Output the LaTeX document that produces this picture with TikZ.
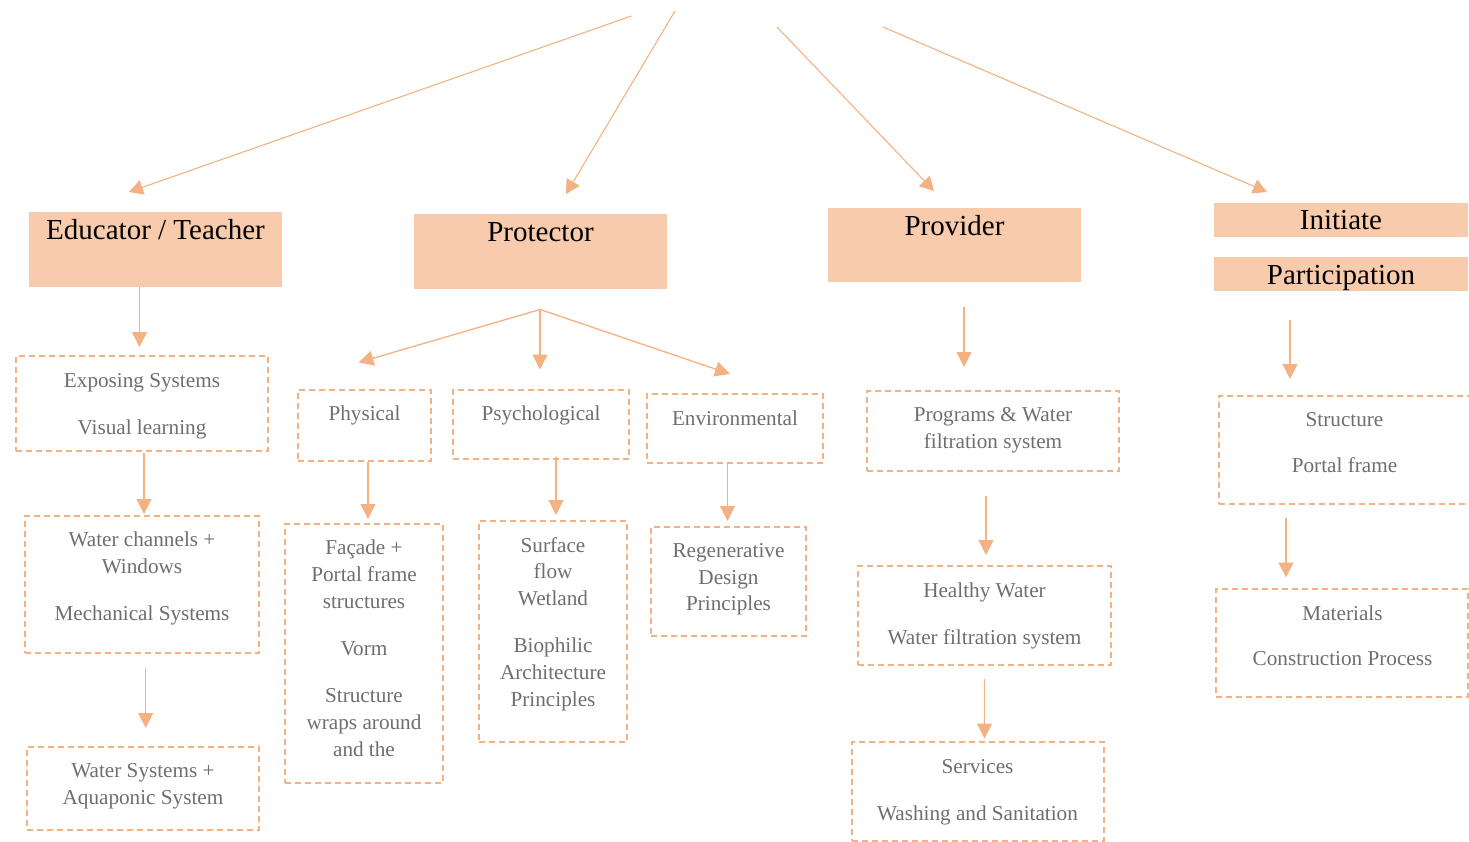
\documentclass[tikz,border=0pt]{standalone}
\usepackage{fontspec}
\setmainfont{Liberation Serif}
\usetikzlibrary{arrows.meta}
\definecolor{hdrfill}{HTML}{F8CBAD}
\definecolor{acc}{HTML}{F4B183}
\definecolor{txtg}{HTML}{6E6E6E}
\newcommand{\mkbox}[6]{%
  \pgfmathsetmacro{\mkW}{#5-#3}\pgfmathsetmacro{\mkH}{#6-#4}%
  \node[#1, minimum width=\mkW pt, minimum height=\mkH pt] (#2) at ({(#3+#5)/2},{(#4+#6)/2}) {};}
\begin{document}
\begin{tikzpicture}[x=1pt,y=-1pt,
  hdrbox/.style={fill=hdrfill, draw=none, inner sep=0pt, outer sep=0pt},
  dbox/.style={draw=acc, line width=2pt, dash pattern=on 6pt off 4pt, inner sep=0pt, outer sep=0pt},
  htxt/.style={anchor=base, inner sep=0pt, font=\fontsize{29}{34}\selectfont, text=black},
  btxt/.style={anchor=north, inner sep=0pt, align=center, font=\fontsize{21.2}{26.8}\selectfont, text=txtg},
  arr/.style={draw=acc, line width=1.3pt, -{Triangle[width=15pt,length=15pt]}},
  tarr/.style={draw=acc, line width=1.1pt, -{Triangle[width=15pt,length=14pt]}}
]
\useasboundingbox (0,0) rectangle (1469,842);

% ---------- header boxes ----------
\mkbox{hdrbox}{edu}{29}{212}{282}{287}
\mkbox{hdrbox}{prot}{414}{214}{667}{289}
\mkbox{hdrbox}{prov}{828}{208}{1081}{282}
\mkbox{hdrbox}{init}{1214}{203}{1468}{237}
\mkbox{hdrbox}{part}{1214}{257}{1468}{291}
\node[htxt] (edut) at (155.5,240) {Educator / Teacher};
\node[htxt] (prott) at (540.5,242) {Protector};
\node[htxt] (provt) at (954.5,236) {Provider};
\node[htxt] (initt) at (1341,230) {Initiate};
\node[htxt] (partt) at (1341,284.5) {Participation};

% ---------- top arrows ----------
\coordinate (t1s) at (631.5,16);  \coordinate (t1e) at (129,192);
\coordinate (t2s) at (675,11);    \coordinate (t2e) at (566,194);
\coordinate (t3s) at (777,27);    \coordinate (t3e) at (934,191);
\coordinate (t4s) at (883,27);    \coordinate (t4e) at (1267,192);
\draw[tarr] (t1s) -- (t1e);
\draw[tarr] (t2s) -- (t2e);
\draw[tarr] (t3s) -- (t3e);
\draw[tarr] (t4s) -- (t4e);

% ---------- Educator column ----------
\mkbox{dbox}{e1}{16}{356}{268}{451}
\mkbox{dbox}{e2}{25}{516}{259}{653}
\mkbox{dbox}{e3}{27}{747}{259}{830}
\node[btxt] (e1t) at (142,373.5) {Exposing Systems\\[20.2pt]Visual learning};
\node[btxt] (e2t) at (142,532) {Water channels +\\Windows\\[20.2pt]Mechanical Systems};
\node[btxt] (e3t) at (143,763.5) {Water Systems +\\Aquaponic System};
\coordinate (ea1s) at (139.5,287); \coordinate (ea1e) at (139.5,347);
\coordinate (ea2s) at (144,453);   \coordinate (ea2e) at (144,514);
\coordinate (ea3s) at (145.7,668); \coordinate (ea3e) at (145.7,728);
\draw[arr] (ea1s) -- (ea1e);
\draw[arr] (ea2s) -- (ea2e);
\draw[arr] (ea3s) -- (ea3e);

% ---------- Protector column ----------
\coordinate (pb) at (540,309.5);
\coordinate (pbl) at (358.5,362.5);
\coordinate (pbm) at (540,369.5);
\coordinate (pbr) at (730,374);
\draw[arr] (pb) -- (pbl);
\draw[arr] (pb) -- (pbm);
\draw[arr] (pb) -- (pbr);

\mkbox{dbox}{phy}{298}{390}{431}{461}
\mkbox{dbox}{psy}{453}{390}{629}{459}
\mkbox{dbox}{env}{647}{394}{823}{463}
\node[btxt] (phyt) at (364.5,406) {Physical};
\node[btxt] (psyt) at (541,406) {Psychological};
\node[btxt] (envt) at (735,410.5) {Environmental};

\mkbox{dbox}{fac}{285}{524}{443}{783}
\mkbox{dbox}{sur}{479}{521}{627}{742}
\mkbox{dbox}{reg}{651}{527}{806}{636}
\node[btxt] (fact) at (364,540) {Façade +\\Portal frame\\structures\\[20.2pt]Vorm\\[20.2pt]Structure\\wraps around\\and the};
\node[btxt] (surt) at (553,537) {Surface\\flow\\Wetland\\[20.2pt]Biophilic\\Architecture\\Principles};
\node[btxt] (regt) at (728.5,543) {Regenerative\\Design\\Principles};
\coordinate (pa1s) at (368,461.5); \coordinate (pa1e) at (368,519);
\coordinate (pa2s) at (556,456.5); \coordinate (pa2e) at (556,515);
\coordinate (pa3s) at (727.5,463); \coordinate (pa3e) at (727.5,521);
\draw[arr] (pa1s) -- (pa1e);
\draw[arr] (pa2s) -- (pa2e);
\draw[arr] (pa3s) -- (pa3e);

% ---------- Provider column ----------
\mkbox{dbox}{v1}{867}{391}{1119}{471}
\mkbox{dbox}{v2}{858}{566}{1111}{665}
\mkbox{dbox}{v3}{852}{742}{1104}{841}
\node[btxt] (v1t) at (993,407.5) {Programs \& Water\\filtration system};
\node[btxt] (v2t) at (984.5,583) {Healthy Water\\[19.5pt]Water filtration system};
\node[btxt] (v3t) at (977.5,759.5) {Services\\[19.5pt]Washing and Sanitation};
\coordinate (va1s) at (964,307);   \coordinate (va1e) at (964,367);
\coordinate (va2s) at (986,496);   \coordinate (va2e) at (986,555);
\coordinate (va3s) at (984.5,678.5); \coordinate (va3e) at (984.5,738.5);
\draw[arr] (va1s) -- (va1e);
\draw[arr] (va2s) -- (va2e);
\draw[arr] (va3s) -- (va3e);

% ---------- Initiate column ----------
\mkbox{dbox}{i1}{1219}{396}{1472}{504}
\mkbox{dbox}{i2}{1216}{589}{1468}{697}
\node[btxt] (i1t) at (1344.5,412) {Structure\\[19.5pt]Portal frame};
\node[btxt] (i2t) at (1342.5,606) {Materials\\[17.5pt]Construction Process};
\coordinate (ia1s) at (1290,319.5); \coordinate (ia1e) at (1290,379);
\coordinate (ia2s) at (1286,517.5); \coordinate (ia2e) at (1286,577.5);
\draw[arr] (ia1s) -- (ia1e);
\draw[arr] (ia2s) -- (ia2e);
\end{tikzpicture}
\end{document}
